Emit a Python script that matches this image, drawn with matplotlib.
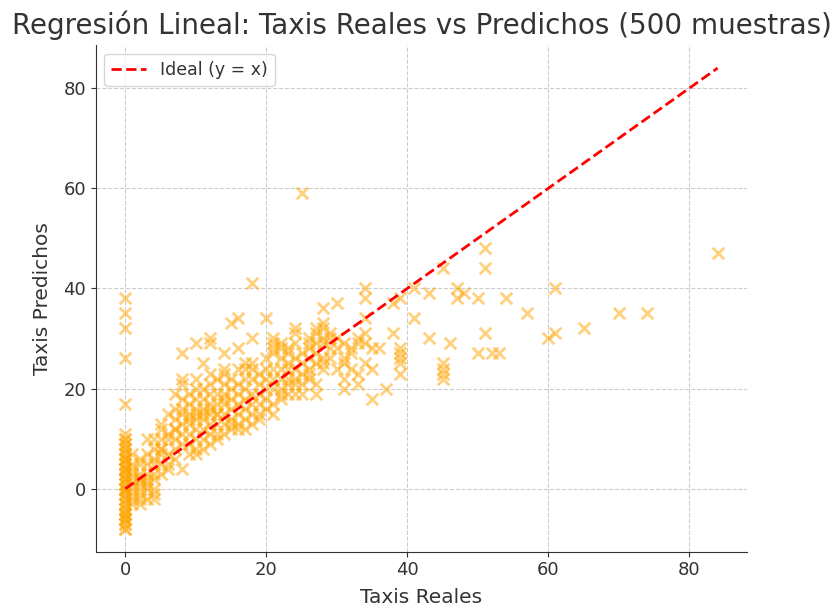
import matplotlib
matplotlib.use("Agg")
import matplotlib.pyplot as plt

# Taxis reales (x) y predichos (y), agrupados por valor real
taxis_reales = (
    [0] * 50
    + [1] * 10 + [2] * 10 + [3] * 8 + [4] * 9 + [5] * 8 + [6] * 6
    + [7] * 8 + [8] * 10 + [9] * 8 + [10] * 11 + [11] * 9 + [12] * 11
    + [13] * 8 + [14] * 10 + [15] * 8 + [16] * 9 + [17] * 8 + [18] * 9
    + [19] * 6 + [20] * 7 + [21] * 9 + [22] * 8 + [23] * 7 + [24] * 8
    + [25] * 6 + [26] * 7 + [27] * 7 + [28] * 8 + [29] * 4 + [30] * 4
    + [31] * 5 + [32] * 3 + [33] * 4 + [34] * 6 + [35] * 3 + [36, 37]
    + [38] * 2 + [39] * 6 + [41] * 2 + [43] * 2 + [45] * 5 + [46]
    + [47] * 2 + [48] + [50] * 2 + [51] * 3 + [52, 53, 54, 57, 60]
    + [61] * 2 + [65, 70, 74, 84]
)

taxis_predichos = [
    # 0
    38, 35, 32, 26, 17, 11, 10, 10, 9, 9, 8, 8, 7, 7, 6, 6, 5, 5, 4, 4,
    3, 3, 2, 2, 1, 1, 0, 0, -1, -1, -2, -2, -3, -3, -4, -4, -5, -5, -6, -6,
    -7, -7, -8, -8, -6, -5, 0, 2, 4, 6,
    # 1
    7, 5, 3, 2, 1, 0, -1, -2, -3, 4,
    # 2
    6, 5, 3, 2, 1, 0, -1, -2, -3, 2,
    # 3
    10, 7, 5, 3, 1, 0, -2, 2,
    # 4
    10, 8, 6, 5, 3, 2, 0, -1, -2,
    # 5
    13, 12, 10, 8, 7, 5, 3, 8,
    # 6
    15, 11, 10, 7, 5, 4,
    # 7
    19, 16, 14, 12, 10, 8, 6, 12,
    # 8
    27, 22, 21, 18, 15, 13, 11, 9, 4, 16,
    # 9
    19, 17, 15, 13, 11, 9, 7, 14,
    # 10
    29, 22, 20, 18, 16, 14, 12, 10, 8, 7, 15,
    # 11
    25, 20, 18, 16, 14, 12, 10, 8, 15,
    # 12
    30, 29, 23, 21, 19, 17, 15, 13, 11, 9, 16,
    # 13
    22, 19, 17, 15, 13, 11, 10, 15,
    # 14
    27, 24, 23, 21, 19, 17, 15, 13, 11, 18,
    # 15
    33, 22, 20, 18, 16, 14, 13, 12,
    # 16
    34, 28, 24, 21, 19, 17, 15, 13, 12,
    # 17
    25, 24, 22, 20, 18, 16, 14, 12,
    # 18
    41, 30, 25, 24, 22, 19, 17, 15, 13,
    # 19
    23, 21, 19, 17, 15, 14,
    # 20
    34, 26, 24, 22, 20, 18, 16,
    # 21
    30, 29, 28, 27, 24, 22, 20, 17, 15,
    # 22
    29, 28, 26, 24, 22, 20, 19, 18,
    # 23
    28, 27, 25, 24, 22, 21, 19,
    # 24
    32, 31, 29, 26, 24, 22, 21, 19,
    # 25
    59, 27, 25, 23, 21, 19,
    # 26
    30, 29, 28, 26, 24, 23, 22,
    # 27
    32, 31, 29, 27, 25, 21, 19,
    # 28
    36, 33, 32, 30, 29, 26, 25, 24,
    # 29
    31, 30, 28, 26,
    # 30
    37, 30, 28, 24,
    # 31
    29, 26, 25, 22, 20,
    # 32
    28, 27, 24,
    # 33
    30, 29, 23, 21,
    # 34
    40, 38, 34, 31, 29, 25,
    # 35
    28, 24, 18,
    # 36, 37
    28, 20,
    # 38
    37, 31,
    # 39
    38, 28, 27, 26, 25, 23,
    # 41
    40, 34,
    # 43
    39, 30,
    # 45
    44, 25, 24, 23, 22,
    # 46
    29,
    # 47
    40, 38,
    # 48
    39,
    # 50
    38, 27,
    # 51
    48, 44, 31,
    # 52, 53, 54, 57, 60
    27, 27, 38, 35, 30,
    # 61
    40, 31,
    # 65, 70, 74, 84
    32, 35, 35, 47,
]

titulo = "Regresión Lineal: Taxis Reales vs Predichos (500 muestras)"
text_color = "#333333"

fig = plt.figure(figsize=(8.33, 6.09), dpi=100)
ax = fig.add_axes([0.115, 0.094, 0.782, 0.832])

ax.scatter(taxis_reales, taxis_predichos, marker="x", color="orange",
           alpha=0.5, s=70, linewidths=2)
lo, hi = min(taxis_reales), max(taxis_reales)
ax.plot([lo, hi], [lo, hi], "r--", lw=2, label="Ideal (y = x)")

ax.set_title(titulo, fontsize=20, color=text_color, pad=8)
ax.set_xlabel("Taxis Reales", fontsize=14.5, color=text_color, labelpad=6)
ax.set_ylabel("Taxis Predichos", fontsize=14.5, color=text_color, labelpad=8)
ax.tick_params(labelsize=13, colors=text_color)
ax.set_xticks([0, 20, 40, 60, 80])
ax.set_yticks([0, 20, 40, 60, 80])

ax.grid(True, linestyle="--", color="#cccccc", linewidth=0.8)
ax.set_axisbelow(True)
for side in ["top", "right"]:
    ax.spines[side].set_visible(False)
for side in ["left", "bottom"]:
    ax.spines[side].set_color(text_color)

leg = ax.legend(loc="upper left", fontsize=12.5)
for t in leg.get_texts():
    t.set_color(text_color)

fig.savefig("out.png", dpi=100)
